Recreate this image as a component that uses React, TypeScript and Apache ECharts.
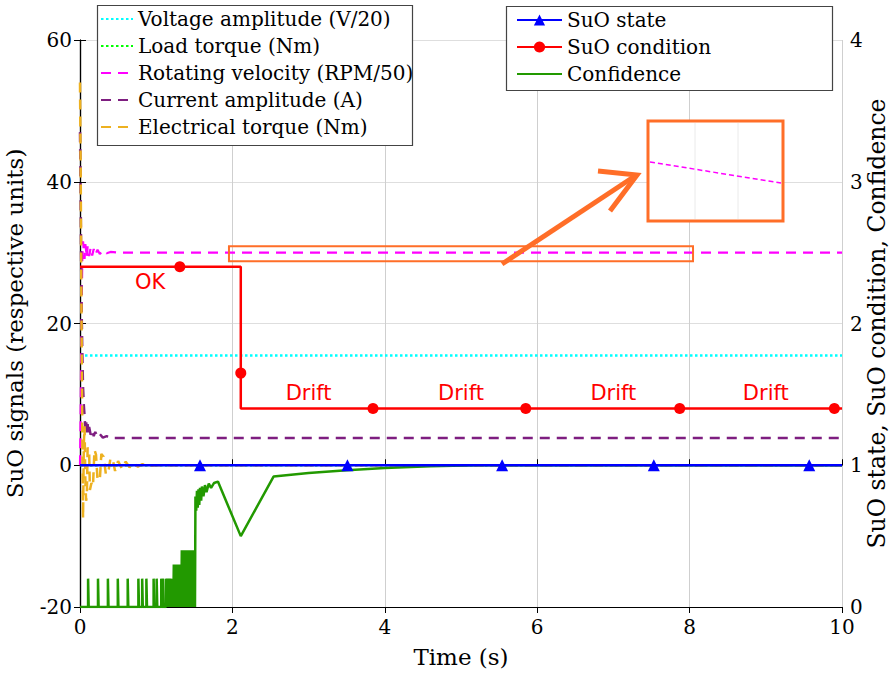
import React, { useEffect, useRef } from "react";
import * as echarts from "echarts";

// ---------- data ----------
const xRange = [0, 10];
const leftRange = [-20, 60];
const rightRange = [0, 4];

const voltage = [[0, 15.5], [10, 15.5]];
const loadTorque = [[0, 0], [10, 0]];
const rpm = [
  [0, 0], [0.01, 9], [0.02, 21], [0.03, 29], [0.04, 31.6], [0.05, 30.2], [0.06, 29.1],
  [0.07, 31.2], [0.08, 30.3], [0.09, 29.3], [0.1, 30.9], [0.12, 29.5], [0.14, 30.7],
  [0.16, 29.6], [0.18, 30.5], [0.2, 29.7], [0.23, 30.4], [0.26, 29.8], [0.3, 30.3],
  [0.35, 29.9], [0.4, 30.1], [0.5, 30], [10, 30],
];
const current = [
  [0, 47], [0.005, 42], [0.01, 36], [0.015, 29], [0.02, 23], [0.03, 16], [0.04, 11],
  [0.05, 8.5], [0.06, 7], [0.07, 5.2], [0.08, 6.3], [0.09, 4.6], [0.1, 5.8], [0.11, 4.5],
  [0.12, 5.4], [0.14, 4.3], [0.16, 5], [0.18, 4.1], [0.2, 4.7], [0.23, 4], [0.26, 4.4],
  [0.3, 3.9], [0.35, 4.1], [0.4, 3.85], [10, 3.85],
];
const elTorque = [
  [0, 54], [0.01, 40], [0.02, 20], [0.03, 5], [0.04, -7.5], [0.05, 3], [0.06, 5.5],
  [0.07, -2], [0.08, -5], [0.09, -4.4], [0.1, 2.5], [0.12, 2], [0.13, -3.5], [0.15, -2.5],
  [0.17, -3], [0.19, 2.2], [0.21, 1.5], [0.23, -2], [0.26, -2.1], [0.28, 1.6], [0.31, 1.2],
  [0.34, -1.3], [0.37, -1.1], [0.4, 1.0], [0.43, 0.8], [0.46, -0.8], [0.5, 0.6],
  [0.55, -0.5], [0.6, 0.5], [0.65, -0.3], [0.7, 0.3], [0.76, -0.2], [0.82, 0.15],
  [0.9, -0.1], [1.0, 0], [10, 0],
];

const stateLine = [[0, 1], [10, 1]];
const stateMarkers = [1.575, 3.51, 5.54, 7.53, 9.57];

const condSteps = [[0, 2.4], [2.11, 2.4], [2.11, 1.4], [10, 1.4]];
const condMarkers = [[1.31, 2.4], [2.11, 1.65], [3.845, 1.4], [5.85, 1.4], [7.87, 1.4], [9.9, 1.4]];
const condLabelText = ["OK", "Drift", "Drift", "Drift", "Drift"];
const condLabelT = [0.92, 3, 5, 7, 9];
const condLabelV = [2.29, 1.51, 1.51, 1.51, 1.51];

const confPulseLow = [0.11, 0.24, 0.37, 0.5, 0.63, 0.77, 0.82, 0.875, 0.97, 1.01, 1.07, 1.09];
const confBlockA = [1.13, 1.145, 1.16, 1.175, 1.19, 1.205, 1.22]; // height 0.2
const confBlockB = [1.235, 1.25, 1.265, 1.28, 1.295, 1.31, 1.325]; // height 0.3
const confBlockC = [1.34, 1.355, 1.37, 1.385, 1.4, 1.415, 1.43, 1.445, 1.46, 1.475, 1.49, 1.505]; // 0.4
const confHeights = [0.2, 0.2, 0.3, 0.4];
const confTail = [
  [1.515, 0], [1.515, 0.78], [1.525, 0.68], [1.535, 0.82], [1.545, 0.7], [1.555, 0.83],
  [1.565, 0.72], [1.575, 0.84], [1.59, 0.75], [1.6, 0.85], [1.62, 0.78], [1.64, 0.86],
  [1.66, 0.81], [1.69, 0.87], [1.72, 0.84], [1.76, 0.875], [1.81, 0.885], [2.11, 0.5],
  [2.54, 0.92], [3.0, 0.945], [3.5, 0.965], [4.0, 0.98], [4.6, 0.993], [5.2, 1.0], [10, 1.0],
];

const highlightBox = [[1.955, 30.9], [8.045, 28.8]]; // data coords (left axis)

// ---------- styles ----------
const SERIF = "DejaVu Serif";
const SANS = "DejaVu Sans";
const ORANGE = "#FF6E28";

function buildConf() {
  const pts: number[][] = [[0, 0]];
  const groups = [confPulseLow, confBlockA, confBlockB, confBlockC];
  groups.forEach((g, gi) => {
    const h = confHeights[gi];
    g.forEach((t) => {
      pts.push([t - 0.004, 0], [t - 0.004, h], [t + 0.004, h], [t + 0.004, 0]);
    });
  });
  return pts.concat(confTail);
}

function buildState() {
  const items: any[] = [{ value: stateLine[0], symbol: "none" }];
  stateMarkers.forEach((t) => items.push({ value: [t, 1] }));
  items.push({ value: stateLine[1], symbol: "none" });
  return items;
}

function buildCond() {
  const all = condSteps.map((p) => ({ p, m: false })).concat(condMarkers.map((p) => ({ p, m: true })));
  all.sort((a, b) => (a.p[0] - b.p[0]) || (b.p[1] - a.p[1]));
  return all.map((o) => (o.m ? { value: o.p } : { value: o.p, symbol: "none" }));
}

export default function App() {
  const ref = useRef<HTMLDivElement>(null);
  useEffect(() => {
    if (!ref.current) return;
    const chart = echarts.init(ref.current, null, { renderer: "svg" });
    const axisLabel = { fontFamily: SERIF, fontSize: 20, color: "#000" };
    const nameStyle = { fontFamily: SERIF, fontSize: 23, color: "#000" };
    const leftNames = [
      "Voltage amplitude (V/20)",
      "Load torque (Nm)",
      "Rotating velocity (RPM/50)",
      "Current amplitude (A)",
      "Electrical torque (Nm)",
    ];
    const rightNames = ["SuO state", "SuO condition", "Confidence"];
    const hidden = { opacity: 0 };
    const option: any = {
      animation: false,
      backgroundColor: "#fff",
      grid: { left: 80, right: 51, top: 40, bottom: 69, containLabel: false, outerBoundsMode: "none" },
      xAxis: [
        {
          type: "value", min: xRange[0], max: xRange[1], interval: 2, position: "bottom",
          axisLine: { lineStyle: { color: "#000", width: 1.2 } },
          axisTick: { inside: true, length: 6, lineStyle: { color: "#000" } },
          axisLabel: { ...axisLabel, margin: 10 },
          splitLine: { show: true, lineStyle: { color: "#cfcfcf", width: 1 } },
          name: "Time (s)", nameLocation: "middle", nameGap: 38, nameMoveOverlap: false,
          nameTextStyle: nameStyle,
        },
        {
          type: "value", min: xRange[0], max: xRange[1], interval: 2, position: "top",
          axisLine: { show: true, lineStyle: { color: "#000", width: 1.2 } },
          axisTick: { show: true, inside: true, length: 6, lineStyle: { color: "#000" } },
          axisLabel: { show: false }, splitLine: { show: false },
        },
      ],
      yAxis: [
        {
          type: "value", min: leftRange[0], max: leftRange[1], interval: 20, position: "left",
          axisLine: { show: true, lineStyle: { color: "#000", width: 1.2 } },
          axisTick: { show: true, inside: true, length: 6, lineStyle: { color: "#000" } },
          axisLabel: { ...axisLabel, margin: 8 },
          splitLine: { show: true, lineStyle: { color: "#dedede", width: 1 } },
          name: "SuO signals (respective units)", nameLocation: "middle", nameGap: 54,
          nameMoveOverlap: false, nameRotate: 90, nameTextStyle: nameStyle,
        },
        {
          type: "value", min: rightRange[0], max: rightRange[1], interval: 1, position: "right",
          axisLine: { show: true, lineStyle: { color: "#000", width: 1.2 } },
          axisTick: { show: true, inside: true, length: 6, lineStyle: { color: "#000" } },
          axisLabel: { ...axisLabel, margin: 8 },
          splitLine: { show: false },
          name: "SuO state, SuO condition, Confidence", nameLocation: "middle", nameGap: 23,
          nameMoveOverlap: false, nameRotate: 90, nameTextStyle: { ...nameStyle, fontSize: 23.5 },
        },
      ],
      legend: [
        {
          data: leftNames.map((n) => ({ name: n, itemStyle: hidden })),
          orient: "vertical", left: 97, top: 6, z: 200,
          itemWidth: 32, itemHeight: 14, itemGap: 7, padding: [3, 4, 4, 3],
          textStyle: { fontFamily: SERIF, fontSize: 20, color: "#000" },
          backgroundColor: "transparent", borderWidth: 0, selectedMode: false,
        },
        {
          data: [
            { name: rightNames[0] },
            { name: rightNames[1] },
            { name: rightNames[2], itemStyle: hidden },
          ],
          orient: "vertical", left: 506, top: 7, z: 200,
          itemWidth: 45, itemHeight: 14, itemGap: 7, padding: [3, 4, 4, 10],
          textStyle: { fontFamily: SERIF, fontSize: 20, color: "#000" },
          backgroundColor: "transparent", borderWidth: 0, selectedMode: false,
        },
      ],
      series: [
        {
          name: leftNames[0], type: "line", data: voltage, symbol: "none", yAxisIndex: 0,
          lineStyle: { color: "#00FFFF", width: 2.5, type: [2.5, 2.5] }, itemStyle: { color: "#00FFFF" },
        },
        {
          name: leftNames[1], type: "line", data: loadTorque, symbol: "none", yAxisIndex: 0,
          lineStyle: { color: "#00FF00", width: 2.5, type: [2.5, 2.5] }, itemStyle: { color: "#00FF00" },
        },
        {
          name: leftNames[2], type: "line", data: rpm, symbol: "none", yAxisIndex: 0,
          lineStyle: { color: "#FF00FF", width: 2.2, type: [10, 7] }, itemStyle: { color: "#FF00FF" },
        },
        {
          name: leftNames[3], type: "line", data: current, symbol: "none", yAxisIndex: 0,
          lineStyle: { color: "#7E1E80", width: 2.5, type: [10, 7] }, itemStyle: { color: "#7E1E80" },
        },
        {
          name: leftNames[4], type: "line", data: elTorque, symbol: "none", yAxisIndex: 0,
          lineStyle: { color: "#EDB120", width: 2.5, type: [10, 7] }, itemStyle: { color: "#EDB120" },
        },
        {
          name: rightNames[2], type: "line", data: buildConf(), symbol: "none", yAxisIndex: 1,
          lineStyle: { color: "#229900", width: 2.5 }, itemStyle: { color: "#229900" },
        },
        {
          name: rightNames[0], type: "line", data: buildState(), symbol: "triangle", symbolSize: 12,
          showSymbol: true, yAxisIndex: 1,
          lineStyle: { color: "#0000FF", width: 2.5 }, itemStyle: { color: "#0000FF" },
        },
        {
          name: rightNames[1], type: "line", data: buildCond(), symbol: "circle", symbolSize: 11,
          showSymbol: true, yAxisIndex: 1,
          lineStyle: { color: "#FF0000", width: 2.5 }, itemStyle: { color: "#FF0000" },
        },
      ],
    };
    chart.setOption(option);

    const p = (t: number, v: number, axis: number) =>
      chart.convertToPixel({ xAxisIndex: 0, yAxisIndex: axis }, [t, v]) as number[];
    const hb0 = p(highlightBox[0][0], highlightBox[0][1], 0);
    const hb1 = p(highlightBox[1][0], highlightBox[1][1], 0);
    const graphics: any[] = [
      { type: "rect", z: 100, shape: { x: 97.5, y: 5.5, width: 315, height: 140 },
        style: { fill: "#fff", stroke: "#444", lineWidth: 1.2 } },
      { type: "rect", z: 100, shape: { x: 506.5, y: 6.5, width: 326, height: 84 },
        style: { fill: "#fff", stroke: "#444", lineWidth: 1.2 } },
      { type: "rect", z: 100, shape: { x: hb0[0], y: hb0[1], width: hb1[0] - hb0[0], height: hb1[1] - hb0[1] },
        style: { fill: "none", stroke: ORANGE, lineWidth: 2 } },
      { type: "rect", z: 100, shape: { x: 648, y: 121, width: 135, height: 100 },
        style: { fill: "#fff", stroke: ORANGE, lineWidth: 3 } },
      { type: "line", z: 101, shape: { x1: 695, y1: 123, x2: 695, y2: 219 }, style: { stroke: "#eaeaea", lineWidth: 1 } },
      { type: "line", z: 101, shape: { x1: 738, y1: 123, x2: 738, y2: 219 }, style: { stroke: "#eaeaea", lineWidth: 1 } },
      { type: "line", z: 102, shape: { x1: 650, y1: 162, x2: 781, y2: 183 },
        style: { stroke: "#FF00FF", lineWidth: 1.5, lineDash: [5, 3] } },
      { type: "line", z: 102, shape: { x1: 502, y1: 264, x2: 635, y2: 176 },
        style: { stroke: ORANGE, lineWidth: 5 } },
      { type: "polyline", z: 102, shape: { points: [[598, 171], [637, 175], [610, 211]] },
        style: { stroke: ORANGE, lineWidth: 5, fill: "none", lineJoin: "miter" } },
    ];
    condLabelText.forEach((txt, i) => {
      const q = p(condLabelT[i], condLabelV[i], 1);
      graphics.push({
        type: "text", z: 103, x: q[0], y: q[1],
        style: { text: txt, fill: "#FF0000", fontFamily: SANS, fontSize: 21, align: "center", verticalAlign: "middle" },
      });
    });
    chart.setOption({ graphic: graphics });
    return () => chart.dispose();
  }, []);
  return <div ref={ref} style={{ width: 893, height: 676, position: "absolute", left: 0, top: 0 }} />;
}
